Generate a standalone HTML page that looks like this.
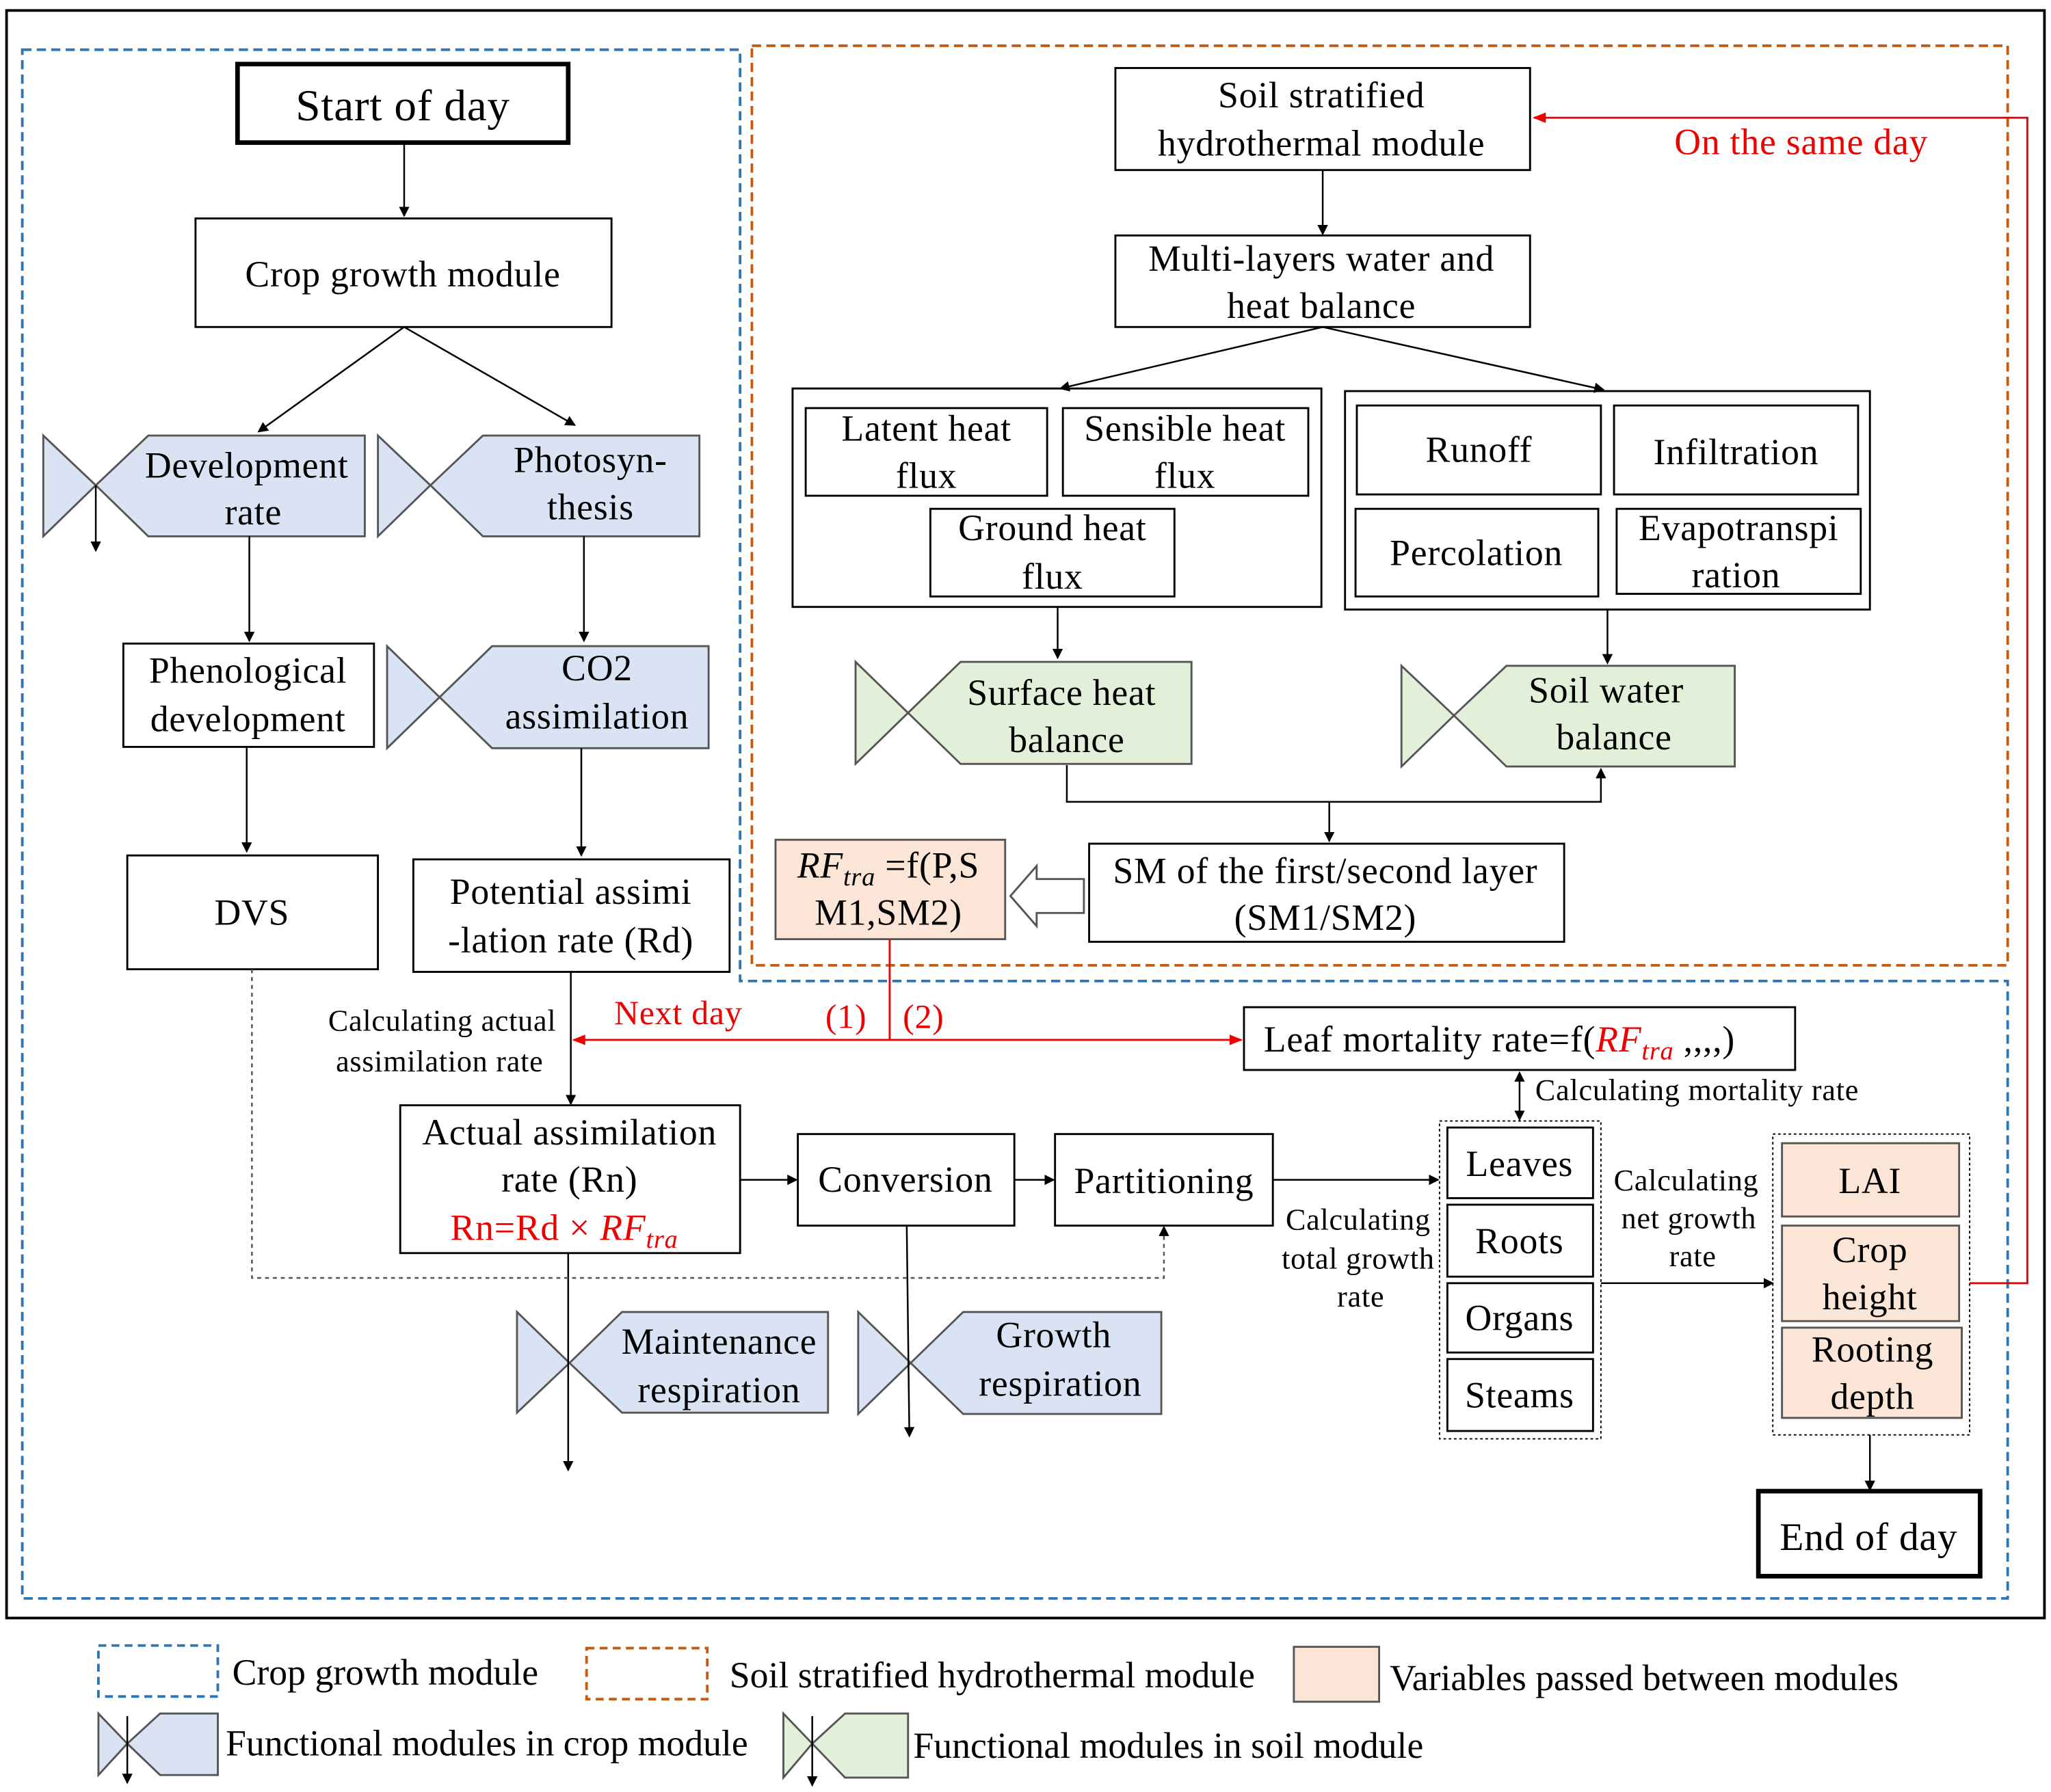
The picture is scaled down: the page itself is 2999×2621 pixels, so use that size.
<!DOCTYPE html>
<html><head><meta charset="utf-8"><style>html,body{margin:0;padding:0;background:#fff}svg{display:block}</style></head>
<body>
<svg width="2999" height="2621" viewBox="0 0 1563 1370" preserveAspectRatio="none" xmlns="http://www.w3.org/2000/svg" font-family="'Liberation Serif', serif" font-size="28" letter-spacing="0.4">
<defs>
<marker id="a" markerWidth="8" markerHeight="8" refX="7" refY="4" orient="auto" markerUnits="userSpaceOnUse"><path d="M0,0 L8,4 L0,8 z" fill="#000"/></marker>
<marker id="r" markerWidth="10" markerHeight="8" refX="9" refY="4" orient="auto" markerUnits="userSpaceOnUse"><path d="M0,0 L10,4 L0,8 z" fill="#e00"/></marker>
<marker id="rs" markerWidth="10" markerHeight="8" refX="1" refY="4" orient="auto" markerUnits="userSpaceOnUse"><path d="M10,0 L0,4 L10,8 z" fill="#e00"/></marker>
<marker id="as" markerWidth="8" markerHeight="8" refX="1" refY="4" orient="auto" markerUnits="userSpaceOnUse"><path d="M8,0 L0,4 L8,8 z" fill="#000"/></marker>
</defs>
<rect x="0" y="0" width="1563" height="1370" fill="#fff"/>
<rect x="5" y="8" width="1553" height="1229" fill="none" stroke="#000" stroke-width="2"/>
<path d="M17,38 H564 V750 H1530 V1222 H17 Z" fill="none" stroke="#2e75b6" stroke-width="2" stroke-dasharray="7,4"/>
<rect x="573" y="35" width="957" height="703" fill="none" stroke="#c55a11" stroke-width="2" stroke-dasharray="7,4"/>

<g fill="none" stroke="#000" stroke-width="1.5">
<rect x="181" y="49" width="252" height="60" stroke-width="3.5"/>
<rect x="149" y="167" width="317" height="83"/>
<rect x="94" y="492" width="191" height="79"/>
<rect x="97" y="654" width="191" height="87"/>
<rect x="315" y="657" width="241" height="86"/>
<rect x="305" y="845" width="259" height="113"/>
<rect x="948" y="770" width="420" height="48"/>
<rect x="608" y="867" width="165" height="70"/>
<rect x="804" y="867" width="166" height="70"/>
<rect x="1097" y="857" width="123" height="243" stroke-dasharray="2,2" stroke-width="1"/>
<rect x="1103" y="862" width="111" height="54"/>
<rect x="1103" y="921" width="111" height="55"/>
<rect x="1103" y="981" width="111" height="53"/>
<rect x="1103" y="1039" width="111" height="55"/>
<rect x="1351" y="867" width="150" height="230" stroke-dasharray="2,2" stroke-width="1"/>
<rect x="1340" y="1140" width="169" height="65" stroke-width="3.5"/>
<rect x="850" y="52" width="316" height="78"/>
<rect x="850" y="180" width="316" height="70"/>
<rect x="604" y="297" width="403" height="167"/>
<rect x="614" y="312" width="184" height="67"/>
<rect x="810" y="312" width="187" height="67"/>
<rect x="709" y="389" width="186" height="67"/>
<rect x="1025" y="299" width="400" height="167"/>
<rect x="1034" y="310" width="186" height="68"/>
<rect x="1230" y="310" width="186" height="68"/>
<rect x="1033" y="389" width="185" height="67"/>
<rect x="1232" y="389" width="186" height="65"/>
<rect x="830" y="645" width="362" height="75"/>
</g>
<g fill="#fbe5d6" stroke="#555" stroke-width="1.5">
<rect x="591" y="642" width="175" height="76"/>
<rect x="1358" y="874" width="135" height="56"/>
<rect x="1358" y="937" width="135" height="73"/>
<rect x="1358" y="1015" width="137" height="69"/>
<rect x="986" y="1259" width="65" height="42"/>
</g>

<g stroke="#555" stroke-width="1.5">
<g fill="#dae3f3">
<path d="M33,333 L73,371 L33,410 Z M73,371 L113,333 L278,333 L278,410 L113,410 Z"/>
<path d="M288,333 L328,371 L288,410 Z M328,371 L368,333 L533,333 L533,410 L368,410 Z"/>
<path d="M295,494 L335,533 L295,572 Z M335,533 L375,494 L540,494 L540,572 L375,572 Z"/>
<path d="M394,1003 L434,1042 L394,1080 Z M434,1042 L474,1003 L631,1003 L631,1080 L474,1080 Z"/>
<path d="M654,1003 L694,1042 L654,1081 Z M694,1042 L734,1003 L885,1003 L885,1081 L734,1081 Z"/>
<path d="M75,1310 L97,1333 L75,1357 Z M97,1333 L122,1310 L166,1310 L166,1357 L122,1357 Z"/>
</g>
<g fill="#e2f0d9">
<path d="M652,506 L692,545 L652,584 Z M692,545 L732,506 L908,506 L908,584 L732,584 Z"/>
<path d="M1068,509 L1108,547 L1068,586 Z M1108,547 L1148,509 L1322,509 L1322,586 L1148,586 Z"/>
<path d="M597,1310 L619,1333 L597,1359 Z M619,1333 L644,1310 L692,1310 L692,1359 L644,1359 Z"/>
</g>
</g>

<g fill="none" stroke="#000" stroke-width="1.3" marker-end="url(#a)">
<line x1="73" y1="371" x2="73" y2="421"/>
<line x1="97" y1="1312" x2="97" y2="1363"/>
<line x1="619" y1="1312" x2="619" y2="1365"/>
<line x1="308" y1="109" x2="308" y2="165"/>
<line x1="308" y1="250" x2="197" y2="330"/>
<line x1="308" y1="250" x2="438" y2="325"/>
<line x1="190" y1="410" x2="190" y2="490"/>
<line x1="445" y1="410" x2="445" y2="490"/>
<line x1="188" y1="571" x2="188" y2="651"/>
<line x1="443" y1="572" x2="443" y2="654"/>
<line x1="435" y1="743" x2="435" y2="844"/>
<line x1="564" y1="902" x2="607" y2="902"/>
<line x1="773" y1="902" x2="803" y2="902"/>
<line x1="970" y1="902" x2="1096" y2="902"/>
<line x1="433" y1="958" x2="433" y2="1124"/>
<line x1="691" y1="937" x2="693" y2="1098"/>
<line x1="1220" y1="981" x2="1351" y2="981"/>
<line x1="1425" y1="1097" x2="1425" y2="1139"/>
<line x1="1008" y1="130" x2="1008" y2="179"/>
<line x1="1008" y1="250" x2="808" y2="297"/>
<line x1="1008" y1="250" x2="1222" y2="298"/>
<line x1="806" y1="464" x2="806" y2="503"/>
<line x1="1225" y1="466" x2="1225" y2="507"/>
<polyline points="813,585 813,613 1220,613 1220,588"/>
<line x1="1013" y1="613" x2="1013" y2="643"/>
<line x1="1158" y1="820" x2="1158" y2="856" marker-start="url(#as)"/>
<polyline points="192,741 192,977 887,977 887,938" stroke-dasharray="3,3" stroke="#555"/>
</g>
<path d="M826,672 L790,672 L790,662 L770,685 L790,708 L790,698 L826,698 Z" fill="#fff" stroke="#555" stroke-width="1.5"/>

<g fill="none" stroke="#e00" stroke-width="1.5">
<line x1="678" y1="718" x2="678" y2="795"/>
<line x1="437" y1="795" x2="946" y2="795" marker-end="url(#r)" marker-start="url(#rs)"/>
<polyline points="1501,981 1545,981 1545,90 1169,90" marker-end="url(#r)"/>
</g>

<g text-anchor="middle" fill="#000">
<text x="307" y="92" font-size="34">Start of day</text>
<text x="307" y="219">Crop growth module</text>
<text x="188" y="365">Development</text><text x="193" y="401">rate</text>
<text x="450" y="361">Photosyn-</text><text x="450" y="397">thesis</text>
<text x="189" y="522">Phenological</text><text x="189" y="559">development</text>
<text x="455" y="520">CO2</text><text x="455" y="557">assimilation</text>
<text x="192" y="707">DVS</text>
<text x="435" y="691">Potential assimi</text><text x="435" y="728">-lation rate (Rd)</text>
<text x="337" y="788" font-size="23">Calculating actual</text><text x="335" y="819" font-size="23">assimilation rate</text>
<text x="434" y="875">Actual assimilation</text><text x="434" y="911">rate (Rn)</text>
<text x="430" y="948" fill="#e00">Rn=Rd × <tspan font-style="italic">RF<tspan font-size="20" dy="6">tra</tspan></tspan></text>
<text x="690" y="911">Conversion</text>
<text x="887" y="912">Partitioning</text>
<text x="548" y="1035">Maintenance</text><text x="548" y="1072">respiration</text>
<text x="803" y="1030">Growth</text><text x="808" y="1067">respiration</text>
<text x="1158" y="899">Leaves</text><text x="1158" y="958">Roots</text><text x="1158" y="1017">Organs</text><text x="1158" y="1076">Steams</text>
<text x="1035" y="940" font-size="23">Calculating</text><text x="1035" y="970" font-size="23">total growth</text><text x="1037" y="999" font-size="23">rate</text>
<text x="1285" y="910" font-size="23">Calculating</text><text x="1287" y="939" font-size="23">net growth</text><text x="1290" y="968" font-size="23">rate</text>
<text x="1425" y="912">LAI</text>
<text x="1425" y="965">Crop</text><text x="1425" y="1001">height</text>
<text x="1427" y="1041">Rooting</text><text x="1427" y="1077">depth</text>
<text x="1424" y="1185" font-size="30">End of day</text>
<text x="1007" y="82">Soil stratified</text><text x="1007" y="119">hydrothermal module</text>
<text x="1007" y="207">Multi-layers water and</text><text x="1007" y="243">heat balance</text>
<text x="706" y="337">Latent heat</text><text x="706" y="373">flux</text>
<text x="903" y="337">Sensible heat</text><text x="903" y="373">flux</text>
<text x="802" y="413">Ground heat</text><text x="802" y="450">flux</text>
<text x="1127" y="353">Runoff</text><text x="1323" y="355">Infiltration</text>
<text x="1125" y="432">Percolation</text>
<text x="1325" y="413">Evapotranspi</text><text x="1323" y="449">ration</text>
<text x="809" y="539">Surface heat</text><text x="813" y="575">balance</text>
<text x="1224" y="537">Soil water</text><text x="1230" y="573">balance</text>
<text x="1010" y="675">SM of the first/second layer</text><text x="1010" y="711">(SM1/SM2)</text>
<text x="677" y="671"><tspan font-style="italic">RF<tspan font-size="20" dy="6">tra</tspan></tspan><tspan dy="-6"> =f(P,S</tspan></text>
<text x="677" y="707">M1,SM2)</text>
</g>
<g fill="#e00" font-size="26">
<text x="468" y="783">Next day</text>
<text x="629" y="786">(1)</text>
<text x="688" y="786">(2)</text>
<text x="1276" y="118" font-size="28">On the same day</text>
</g>
<text x="963" y="804">Leaf mortality rate=f(<tspan fill="#e00" font-style="italic">RF<tspan font-size="20" dy="6">tra</tspan></tspan><tspan dy="-6"> ,,,,)</tspan></text>
<text x="1170" y="841" font-size="23">Calculating mortality rate</text>

<rect x="75" y="1258" width="91" height="39" fill="none" stroke="#2e75b6" stroke-width="2" stroke-dasharray="6,4"/>
<rect x="447" y="1260" width="92" height="39" fill="none" stroke="#c55a11" stroke-width="2" stroke-dasharray="6,4"/>
<g font-size="28" letter-spacing="0">
<text x="177" y="1288">Crop growth module</text>
<text x="556" y="1290">Soil stratified hydrothermal module</text>
<text x="1059" y="1292">Variables passed between modules</text>
<text x="172" y="1342">Functional modules in crop module</text>
<text x="696" y="1344">Functional modules in soil module</text>
</g>
</svg>
</body></html>
